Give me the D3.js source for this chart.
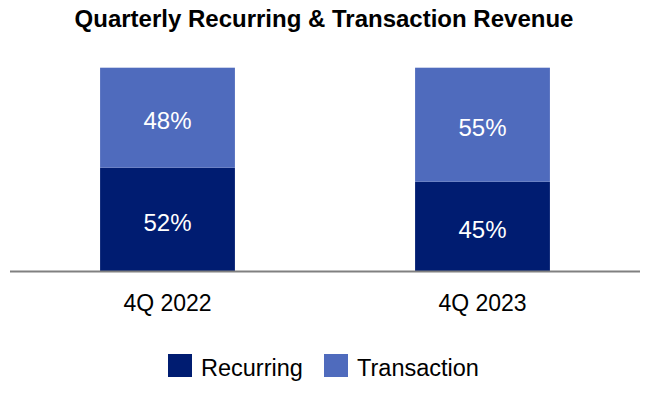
<!DOCTYPE html>
<html>
<head>
<meta charset="utf-8">
<script src="https://cdn.jsdelivr.net/npm/d3@7"></script>
<style>
  body { margin: 0; background: #fff; }
  svg { font-family: "Liberation Sans", Arial, sans-serif; }
</style>
</head>
<body>
<div id="chart"></div>
<script>
// Data
const quarters = ["4Q 2022", "4Q 2023"];
const recurring = [50.8, 43.9];
const transaction = [49.2, 56.1];
const recurringLabels = ["52%", "45%"];
const transactionLabels = ["48%", "55%"];
const seriesNames = ["Recurring", "Transaction"];
const colors = ["#001c71", "#4f6bbd"];

const width = 650, height = 400;

const svg = d3.select("#chart").append("svg")
    .attr("width", width)
    .attr("height", height);

// Title
svg.append("text")
    .attr("x", 324)
    .attr("y", 27)
    .attr("text-anchor", "middle")
    .attr("font-size", 24)
    .attr("font-weight", "bold")
    .text("Quarterly Recurring & Transaction Revenue");

// Scales
const x = d3.scaleBand()
    .domain(quarters)
    .range([10, 640])
    .paddingInner(0.572)
    .paddingOuter(0.286);

const y = d3.scaleLinear()
    .domain([0, 100])
    .range([271, 67.7]);

const rows = quarters.map((q, i) => ({
    q,
    segs: [
        { y0: 0, y1: recurring[i], label: recurringLabels[i], color: colors[0] },
        { y0: recurring[i], y1: recurring[i] + transaction[i], label: transactionLabels[i], color: colors[1] }
    ]
}));

const g = svg.append("g");

rows.forEach(r => {
    r.segs.forEach(s => {
        g.append("rect")
            .attr("x", x(r.q))
            .attr("y", y(s.y1))
            .attr("width", x.bandwidth())
            .attr("height", y(s.y0) - y(s.y1))
            .attr("fill", s.color);

        g.append("text")
            .attr("x", x(r.q) + x.bandwidth() / 2)
            .attr("y", (y(s.y0) + y(s.y1)) / 2 + 3)
            .attr("text-anchor", "middle")
            .attr("dominant-baseline", "central")
            .attr("font-size", 24)
            .attr("fill", "#fff")
            .text(s.label);
    });
});

// Baseline axis
const axis = svg.append("g")
    .attr("transform", `translate(0, ${y(0)})`)
    .call(d3.axisBottom(x).tickSize(0).tickPadding(24));
axis.select(".domain")
    .attr("d", "M10,0.5H640")
    .attr("stroke", "#808080")
    .attr("stroke-width", 2);
axis.selectAll("text")
    .attr("font-size", 23)
    .attr("font-family", "Liberation Sans, Arial, sans-serif")
    .attr("fill", "#000");

// Legend
const legendX = [168, 324];
seriesNames.forEach((name, i) => {
    svg.append("rect")
        .attr("x", legendX[i])
        .attr("y", 354)
        .attr("width", 24)
        .attr("height", 23)
        .attr("fill", colors[i]);
    svg.append("text")
        .attr("x", legendX[i] + 33)
        .attr("y", 376)
        .attr("font-size", 23.5)
        .attr("fill", "#000")
        .text(name);
});
</script>
</body>
</html>
